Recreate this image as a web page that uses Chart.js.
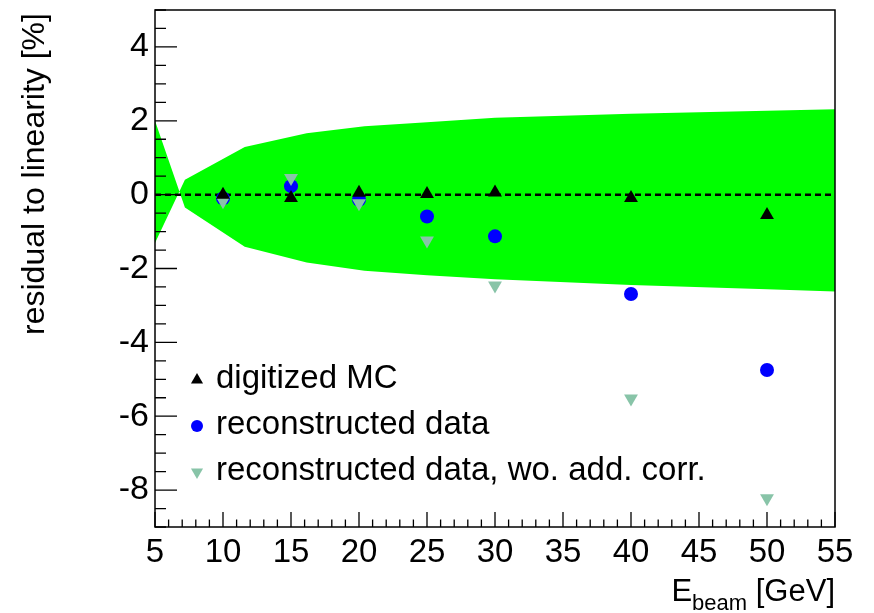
<!DOCTYPE html>
<html><head><meta charset="utf-8">
<script src="https://cdn.jsdelivr.net/npm/chart.js@4"></script>
<style>html,body{margin:0;padding:0;background:#fff;}canvas{display:block;}</style>
</head><body>
<canvas id="c" width="874" height="613"></canvas>
<script>
// ---- data ----
const energies = [10, 15, 20, 25, 30, 40, 50];
const digitizedMC = [0.0, -0.09, 0.05, 0.02, 0.06, -0.09, -0.55];
const recoData = [-0.1, 0.23, -0.14, -0.59, -1.13, -2.69, -4.75];
const recoNoCorr = [-0.18, 0.45, -0.23, -1.24, -2.46, -5.52, -8.22];
// uncertainty band (polygon edges; they cross near 6.8 GeV)
const bandX = [5, 7.2, 11.6, 16.15, 20.4, 25, 30, 40, 50, 55];
const bandEdgeA = [2.0, -0.35, -1.41, -1.84, -2.06, -2.18, -2.29, -2.45, -2.56, -2.62];
const bandEdgeB = [-1.31, 0.4, 1.29, 1.66, 1.85, 1.96, 2.08, 2.19, 2.27, 2.31];
const xTicks = [5, 10, 15, 20, 25, 30, 35, 40, 45, 50, 55];
const yTicks = [-8, -6, -4, -2, 0, 2, 4];
const legendLabels = ['digitized MC', 'reconstructed data', 'reconstructed data, wo. add. corr.'];
const yTitle = 'residual to linearity [%]';
const xTitleMain = 'E', xTitleSub = 'beam', xTitleRest = ' [GeV]';

const FONT = '"Liberation Sans", Arial, Helvetica, sans-serif';
const GREEN = '#00ff00', BLUE = '#0000ff', GREY = '#88c4a8';

const pts = (xs, ys) => xs.map((x, i) => ({x, y: ys[i]}));

const decor = {
  id: 'decor',
  afterDraw(chart) {
    const {ctx, chartArea: a, scales: {x, y}} = chart;
    ctx.save();
    ctx.strokeStyle = '#000';
    ctx.lineWidth = 1.5;
    ctx.strokeRect(a.left, a.top, a.right - a.left, a.bottom - a.top);
    ctx.lineWidth = 1.3;
    ctx.beginPath();
    // y ticks (left, inside)
    for (let v = y.min; v <= y.max + 1e-9; v += 0.5) {
      const py = y.getPixelForValue(v);
      const major = Math.abs(v / 2 - Math.round(v / 2)) < 1e-9;
      ctx.moveTo(a.left, py); ctx.lineTo(a.left + (major ? 22 : 11), py);
    }
    // x ticks (bottom, inside)
    for (let v = x.min; v <= x.max + 1e-9; v += 1) {
      const px = x.getPixelForValue(v);
      const major = v % 5 === 0;
      ctx.moveTo(px, a.bottom); ctx.lineTo(px, a.bottom - (major ? 15 : 7.5));
    }
    ctx.stroke();

    // legend
    const ds = chart.data.datasets;
    const entries = [[ds[3], 0], [ds[4], 1], [ds[5], 2]];
    const rowY = [380, 426, 472];
    ctx.font = '33px ' + FONT;
    ctx.textBaseline = 'middle';
    ctx.textAlign = 'left';
    entries.forEach(([d, i]) => {
      ctx.fillStyle = d.backgroundColor;
      ctx.strokeStyle = d.backgroundColor;
      Chart.helpers.drawPoint(ctx, {pointStyle: d.pointStyle, radius: d.pointStyle === 'circle' ? 6 : 7, rotation: d.rotation || 0, borderWidth: 0}, 197, rowY[i]);
      ctx.fillStyle = '#000';
      ctx.fillText(legendLabels[i], 216, rowY[i] - 1);
    });

    // y title
    ctx.save();
    ctx.translate(35, 174);
    ctx.rotate(-Math.PI / 2);
    ctx.textAlign = 'center';
    ctx.textBaseline = 'middle';
    ctx.font = '32px ' + FONT;
    ctx.fillText(yTitle, 0, 0);
    ctx.restore();

    // x title (right aligned to frame)
    ctx.textBaseline = 'alphabetic';
    ctx.textAlign = 'left';
    ctx.font = '31px ' + FONT;
    const wE = ctx.measureText(xTitleMain).width;
    const wR = ctx.measureText(xTitleRest).width;
    ctx.font = '22px ' + FONT;
    const wS = ctx.measureText(xTitleSub).width;
    const sx = a.right - wE - wS - wR;
    ctx.font = '31px ' + FONT;
    ctx.fillText(xTitleMain, sx, 601);
    ctx.font = '22px ' + FONT;
    ctx.fillText(xTitleSub, sx + wE, 610);
    ctx.font = '31px ' + FONT;
    ctx.fillText(xTitleRest, sx + wE + wS, 601);
    ctx.restore();
  }
};

new Chart(document.getElementById('c'), {
  type: 'scatter',
  data: {
    datasets: [
      {data: pts(bandX, bandEdgeA), showLine: true, borderWidth: 0, borderColor: 'rgba(0,0,0,0)', pointRadius: 0, fill: false, order: 10},
      {data: pts(bandX, bandEdgeB), showLine: true, borderWidth: 0, borderColor: 'rgba(0,0,0,0)', pointRadius: 0, fill: '-1', backgroundColor: GREEN, order: 9},
      {data: [{x: 5, y: 0}, {x: 55, y: 0}], showLine: true, borderColor: '#000', borderWidth: 2.5, borderDash: [6, 4], pointRadius: 0, fill: false, order: 5},
      {data: pts(energies, digitizedMC), pointStyle: 'triangle', pointRadius: 8, backgroundColor: '#000', borderColor: '#000', borderWidth: 0, order: 1},
      {data: pts(energies, recoData), pointStyle: 'circle', pointRadius: 7, backgroundColor: BLUE, borderColor: BLUE, borderWidth: 0, order: 3},
      {data: pts(energies, recoNoCorr), pointStyle: 'triangle', rotation: 180, pointRadius: 8, backgroundColor: GREY, borderColor: GREY, borderWidth: 0, order: 2}
    ]
  },
  options: {
    responsive: false,
    animation: false,
    devicePixelRatio: 1,
    layout: {padding: {top: 10, right: 39, left: 0, bottom: 0}},
    plugins: {legend: {display: false}, tooltip: {enabled: false}},
    scales: {
      x: {
        type: 'linear', min: 5, max: 55,
        afterBuildTicks: s => { s.ticks = xTicks.map(v => ({value: v})); },
        afterFit: s => { s.height = 86; s.paddingLeft = 0; s.paddingRight = 0; },
        ticks: {color: '#000', font: {size: 33, family: FONT}, padding: 6, autoSkip: false, maxRotation: 0},
        grid: {display: false, drawTicks: false},
        border: {display: false}
      },
      y: {
        type: 'linear', min: -9, max: 5,
        afterBuildTicks: s => { s.ticks = yTicks.map(v => ({value: v})); },
        afterFit: s => { s.width = 155; s.paddingTop = 0; s.paddingBottom = 0; },
        ticks: {color: '#000', font: {size: 34, family: FONT}, padding: 6, autoSkip: false},
        grid: {display: false, drawTicks: false},
        border: {display: false}
      }
    }
  },
  plugins: [decor]
});
</script>
</body></html>
